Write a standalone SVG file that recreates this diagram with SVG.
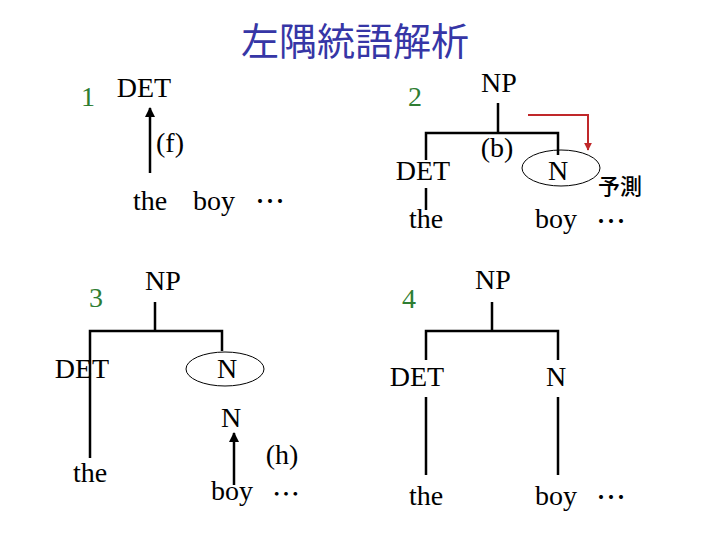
<svg xmlns="http://www.w3.org/2000/svg" width="720" height="540" viewBox="0 0 720 540">
<defs>
<style>
.t{font-family:"Liberation Serif","Times New Roman",serif;font-size:28px;fill:#000;text-anchor:middle}
.num{font-family:"Liberation Serif",serif;font-size:28px;fill:#2e7d32;text-anchor:middle}
.dots{font-family:"Noto Sans CJK JP",sans-serif;font-size:30px;fill:#000;text-anchor:middle}
.ln{stroke:#000;stroke-width:2.5;fill:none}
.ov{stroke:#000;stroke-width:1;fill:none}
</style>
<marker id="ah" viewBox="0 0 10 10" refX="9" refY="5" markerWidth="4" markerHeight="4" orient="auto"><path d="M0,0L10,5L0,10z" fill="#000"/></marker>
<marker id="ahr" viewBox="0 0 10 10" refX="9" refY="5" markerWidth="4" markerHeight="4" orient="auto"><path d="M0,0L10,5L0,10z" fill="#c0282a"/></marker>
</defs>
<rect width="720" height="540" fill="#fff"/>
<text x="355" y="55" font-family="Noto Sans CJK JP, sans-serif" font-size="38" fill="#3636a6" text-anchor="middle">左隅統語解析</text>

<g id="panel1">
<text class="num" x="88" y="106">1</text>
<g id="p1-det"><text class="t" x="144" y="97">DET</text></g>
<g id="p1-the"><text class="t" x="150" y="210">the</text></g>
<g id="p1-boy"><text class="t" x="214" y="210">boy</text></g>
<text class="dots" x="270" y="212">…</text>
<text class="t" x="170" y="152">(f)</text>
</g>

<g id="panel2">
<text class="num" x="415" y="106">2</text>
<g id="p2-np"><text class="t" x="499" y="92">NP</text></g>
<g id="p2-det"><text class="t" x="423" y="180">DET</text></g>
<g id="p2-n"><ellipse class="ov" cx="561" cy="168" rx="39" ry="18"/><text class="t" x="558" y="180">N</text></g>
<g id="p2-the"><text class="t" x="426" y="228">the</text></g>
<g id="p2-boy"><text class="t" x="556" y="228">boy</text></g>
<text class="dots" x="611" y="232">…</text>
<text class="t" x="497" y="157">(b)</text>
<text x="620" y="194" font-family="Noto Sans CJK JP, sans-serif" font-size="22" font-weight="500" text-anchor="middle">予測</text>
</g>

<g id="panel3">
<text class="num" x="96" y="307">3</text>
<g id="p3-np"><text class="t" x="163" y="290">NP</text></g>
<g id="p3-det"><text class="t" x="82" y="378">DET</text></g>
<g id="p3-n"><ellipse class="ov" cx="225" cy="369" rx="39" ry="17"/><text class="t" x="227" y="378">N</text></g>
<g id="p3-n2"><text class="t" x="231" y="427">N</text></g>
<g id="p3-the"><text class="t" x="90" y="482">the</text></g>
<g id="p3-boy"><text class="t" x="232" y="500">boy</text></g>
<text class="dots" x="286" y="505" style="font-size:28px">…</text>
<text class="t" x="282" y="464">(h)</text>
</g>

<g id="panel4">
<text class="num" x="409" y="308">4</text>
<g id="p4-np"><text class="t" x="493" y="289">NP</text></g>
<g id="p4-det"><text class="t" x="417" y="386">DET</text></g>
<g id="p4-n"><text class="t" x="556" y="386">N</text></g>
<g id="p4-the"><text class="t" x="426" y="505">the</text></g>
<g id="p4-boy"><text class="t" x="556" y="505">boy</text></g>
<text class="dots" x="611" y="508">…</text>
</g>

<g id="connectors">
<line class="ln" x1="150" y1="173" x2="150" y2="108" marker-end="url(#ah)"/>
<path class="ln" d="M498,103V133M426,160V133H558V155M426,188V210"/>
<path d="M528,115H588V150" stroke="#c0282a" stroke-width="2" fill="none" marker-end="url(#ahr)"/>
<path class="ln" d="M155,302V331M90,458V331H222V351"/>
<line class="ln" x1="234" y1="485" x2="234" y2="433" marker-end="url(#ah)"/>
<path class="ln" d="M492,302V331M426,360V331H558V360M426,397V475M558,397V475"/>
</g>
</svg>
